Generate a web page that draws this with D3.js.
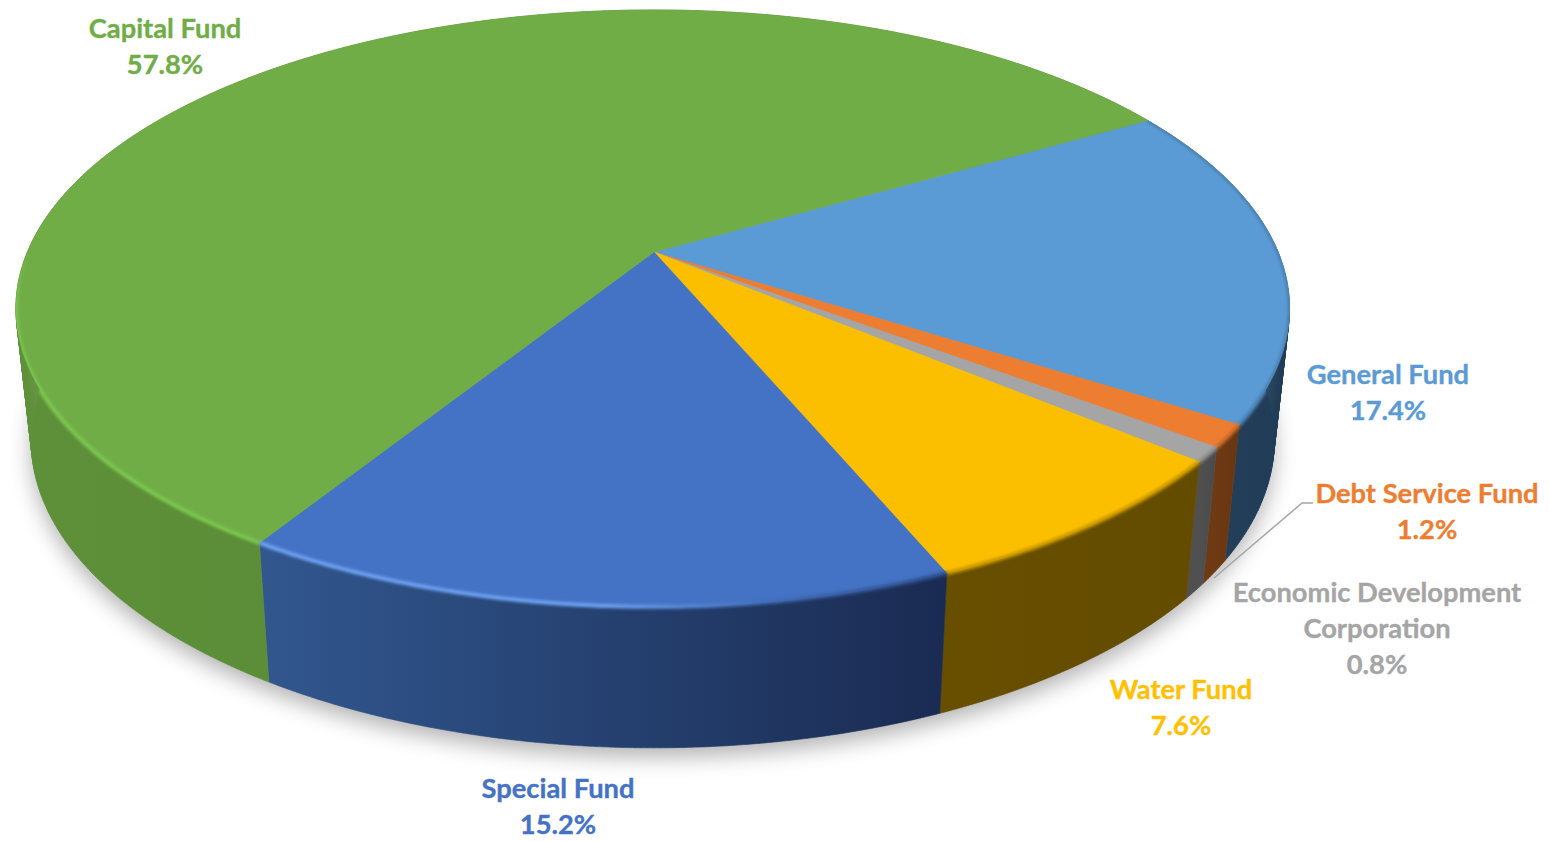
<!DOCTYPE html>
<html>
<head>
<meta charset="utf-8">
<script src="https://cdn.jsdelivr.net/npm/d3@7"></script>
<style>
    html, body { margin: 0; padding: 0; background: #fff; overflow: hidden; }
    text { font-family: Lato, "Open Sans", sans-serif; font-weight: 700; font-size: 27.3px; stroke-width: 0.35; }
</style>
</head>
<body>
<div id="chart-area"></div>
<script>
// Values, clockwise from the upper right
var categories = ["General Fund", "Debt Service Fund", "Economic Development Corporation", "Water Fund", "Special Fund", "Capital Fund"];
var shares = [17.4, 1.2, 0.8, 7.6, 15.2, 57.8];

var labelLines = [["General Fund"], ["Debt Service Fund"], ["Economic Development", "Corporation"], ["Water Fund"], ["Special Fund"], ["Capital Fund"]];

// Styles
var topColors = ["#5b9bd5", "#ed7d31", "#a5a5a5", "#fcbf00", "#4472c4", "#70ad47"];
var textColors = ["#5b9bd5", "#ed7d31", "#a5a5a5", "#ffc000", "#4472c4", "#70ad47"];
var sideFrom = ["#27435f", "#6d3a13", "#505050", "#684f00", "#31578f", "#5e9039"];
var sideTo = ["#1f3b55", "#673510", "#4a4a4a", "#634b00", "#1a2b52", "#548132"];
var rimColors = ["#4a80b0", "#c96a28", "#8c8c8c", "#c79600", "#6ea2f2", "#7cc84f"];

// Label anchors (centre x, first baseline)
var labelX = [1388, 1427, 1377, 1181, 558, 165];
var labelY = [384, 503, 602, 699, 798, 38];
var lineGap = 36;

var width = 1550, height = 841;

// Perspective of the disc
var apex = [654, 252];
var radiusX = 626.6, radiusY = 287.8, tilt = 0.189;
var rightSquash = 0.996;
var startAngle = 60 * Math.PI / 180;

// Lower rim is the top rim shrunk and pushed down
var wallX = d3.scaleLinear().domain([0, 1]).range([1, 0.976]);
var frontY = 607, bottomY = 748;
var wallY = d3.scaleLinear().domain([0, frontY]).range([bottomY - 1.03 * frontY, bottomY]);

function project(angle, z) {
    var u = Math.sin(angle), v = -Math.cos(angle), w = 1 - tilt * v;
    var x = apex[0] + radiusX * (u > 0 ? rightSquash : 1) * u / w;
    var y = apex[1] + radiusY * v / w;
    return [apex[0] + (x - apex[0]) * (1 + (wallX(1) - 1) * z), y + (wallY(y) - y) * z];
}

function arcPoints(a0, a1, z) {
    var n = Math.max(2, Math.ceil(Math.abs(a1 - a0) * 120));
    return d3.range(n + 1).map(function(i) {
        return project(a0 + (a1 - a0) * i / n, z);
    });
}

var line = d3.line();

// The wall has to be a run of quads, a single outline misses the part at the tangents
function wallPath(a0, a1) {
    var top = arcPoints(a0, a1, 0), bottom = arcPoints(a0, a1, 1);
    return d3.range(top.length - 1).map(function(i) {
        return line([top[i], top[i + 1], bottom[i + 1], bottom[i]]) + "Z";
    }).join("");
}

var pie = d3.pie()
    .sort(null)
    .startAngle(startAngle)
    .endAngle(startAngle + 2 * Math.PI);
var slices = pie(shares);

var svg = d3.select("#chart-area")
    .append("svg")
        .attr("width", width)
        .attr("height", height);

var defs = svg.append("defs");

defs.append("filter")
    .attr("id", "shadow-blur")
    .attr("x", "-10%").attr("y", "-10%").attr("width", "120%").attr("height", "120%")
    .append("feGaussianBlur").attr("stdDeviation", 11);

defs.append("filter")
    .attr("id", "rim-blur")
    .attr("filterUnits", "userSpaceOnUse")
    .attr("x", 0).attr("y", 0).attr("width", width).attr("height", height)
    .append("feGaussianBlur").attr("stdDeviation", 1.6);

// Keeps the blurred rim inside the outline of the disc
defs.append("clipPath")
    .attr("id", "disc-clip")
    .append("path")
    .attr("d", line(arcPoints(0, 2 * Math.PI, 0)) + "Z" + wallPath(0, 2 * Math.PI));

slices.forEach(function(d, i) {
    var xs = arcPoints(d.startAngle, d.endAngle, 0).map(function(p) { return p[0]; });
    var ext = d3.extent(xs);

    var grad = defs.append("linearGradient")
        .attr("id", "side-" + i)
        .attr("gradientUnits", "userSpaceOnUse")
        .attr("x1", ext[0]).attr("x2", ext[1])
        .attr("y1", 0).attr("y2", 0);
    grad.append("stop").attr("offset", 0).attr("stop-color", sideFrom[i]);
    grad.append("stop").attr("offset", 1).attr("stop-color", sideTo[i]);
});

// Highlight on the rim fades out going up the left side and to the right of the front
var greenFade = defs.append("linearGradient")
    .attr("id", "rim-5")
    .attr("gradientUnits", "userSpaceOnUse")
    .attr("x1", 0).attr("x2", 0).attr("y1", 545).attr("y2", 250);
greenFade.append("stop").attr("offset", 0).attr("stop-color", rimColors[5]);
greenFade.append("stop").attr("offset", 0.8).attr("stop-color", rimColors[5]);
greenFade.append("stop").attr("offset", 1).attr("stop-color", rimColors[5]).attr("stop-opacity", 0);

var blueFade = defs.append("linearGradient")
    .attr("id", "rim-4")
    .attr("gradientUnits", "userSpaceOnUse")
    .attr("x1", 263).attr("x2", 945).attr("y1", 0).attr("y2", 0);
blueFade.append("stop").attr("offset", 0).attr("stop-color", rimColors[4]);
blueFade.append("stop").attr("offset", 0.5).attr("stop-color", rimColors[4]);
blueFade.append("stop").attr("offset", 0.75).attr("stop-color", "#3f6ab6");
blueFade.append("stop").attr("offset", 1).attr("stop-color", "#2c4a84");

// Shadow under the disc
svg.append("path")
    .attr("d", line(arcPoints(0, 2 * Math.PI, 1)) + "Z")
    .attr("transform", "translate(0,9)")
    .attr("fill", "#000")
    .attr("opacity", 0.3)
    .attr("filter", "url(#shadow-blur)");

// Walls
svg.selectAll("path.wall")
    .data(slices)
    .enter()
    .append("path")
    .attr("class", "wall")
    .attr("d", function(d) { return wallPath(d.startAngle, d.endAngle); })
    .attr("fill", function(d, i) { return "url(#side-" + i + ")"; })
    .attr("stroke", function(d, i) { return "url(#side-" + i + ")"; })
    .attr("stroke-width", 0.6);

// Top faces
svg.selectAll("path.face")
    .data(slices)
    .enter()
    .append("path")
    .attr("class", "face")
    .attr("d", function(d) {
        return line([apex].concat(arcPoints(d.startAngle, d.endAngle, 0))) + "Z";
    })
    .attr("fill", function(d, i) { return topColors[i]; })
    .attr("stroke", function(d, i) { return topColors[i]; })
    .attr("stroke-width", 0.6);

// Rim highlight, only on the part of the rim that faces the viewer
svg.append("g")
    .attr("clip-path", "url(#disc-clip)")
    .selectAll("path.rim")
    .data(slices)
    .enter()
    .append("path")
    .attr("class", "rim")
    .attr("d", function(d) {
        return line(arcPoints(d.startAngle, d.endAngle, 0));
    })
    .attr("fill", "none")
    .attr("stroke", function(d, i) { return i >= 4 ? "url(#rim-" + i + ")" : rimColors[i]; })
    .attr("stroke-width", 4)
    .attr("filter", "url(#rim-blur)");

// Leader line of the smallest slice
var leader = [[1214, 578], [1302, 503], [1313, 503]];
svg.append("path")
    .attr("d", line(leader))
    .attr("fill", "none")
    .attr("stroke", "#a6a6a6")
    .attr("stroke-width", 1.5);

// Labels
var labels = svg.selectAll("text.label")
    .data(slices)
    .enter()
    .append("text")
    .attr("class", "label")
    .attr("text-anchor", "middle")
    .attr("fill", function(d, i) { return textColors[i]; })
    .attr("stroke", function(d, i) { return textColors[i]; });

labels.each(function(d, i) {
    var rows = labelLines[i].concat(d3.format(".1f")(shares[i]) + "%");
    d3.select(this).selectAll("tspan")
        .data(rows)
        .enter()
        .append("tspan")
        .attr("x", labelX[i])
        .attr("y", function(r, j) { return labelY[i] + j * lineGap; })
        .text(function(r) { return r; });
});
</script>
</body>
</html>
